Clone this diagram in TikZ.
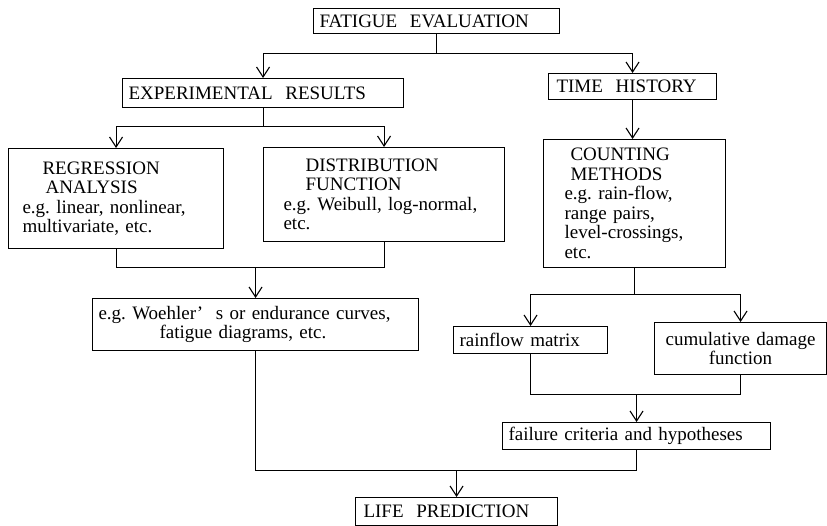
\documentclass[tikz,border=0pt]{standalone}
\usepackage{fontspec}
\setmainfont{Liberation Serif}
\usetikzlibrary{positioning,arrows.meta}
\frenchspacing

\tikzset{
  box/.style={draw,line width=1.1pt,align=left,anchor=north west,
              inner xsep=6pt,inner ysep=2pt,
              font=\fontsize{19}{19.5}\selectfont},
  link/.style={line width=1.1pt},
  arr/.style={link,-{Straight Barb[length=10pt,width=13pt,line width=1.1pt]}},
}

\begin{document}
\begin{tikzpicture}[x=1pt,y=-1pt]
  \useasboundingbox (0,0) rectangle (827,526);

  % boxes
  \node[box,text width=234pt,minimum height=25pt] (fe) at (313,8) {FATIGUE\ \ EVALUATION};
  \node[box,text width=269pt,minimum height=29pt] (exp) at (122,78) {EXPERIMENTAL\ \ RESULTS};
  \node[box,inner xsep=8pt,text width=152pt,minimum height=26pt] (time) at (548,73) {TIME\ \ HISTORY};

  \node[box,inner xsep=14pt,text width=187pt,minimum height=100pt] (reg) at (8,148)
    {\hspace*{20pt}REGRESSION\\\hspace*{23pt}ANALYSIS\\
     e.g. linear, nonlinear,\\ multivariate, etc.};
  \node[box,inner xsep=20pt,text width=201pt,minimum height=94pt] (dist) at (263,147)
    {\hspace*{22pt}DISTRIBUTION\\\hspace*{22pt}FUNCTION\\
     e.g. Weibull, log-normal,\\ etc.};
  \node[box,inner xsep=21pt,text width=140pt,minimum height=128pt] (count) at (543,139)
    {\hspace*{6pt}COUNTING\\\hspace*{6pt}METHODS\\
     e.g. rain-flow,\\ range pairs,\\ level-crossings,\\ etc.};

  \node[box,text width=314pt,minimum height=52pt] (woe) at (92,298)
    {e.g. Woehler'\ \ s or endurance curves,\\ \hspace*{61pt}fatigue diagrams, etc.};
  \node[box,text width=142pt,minimum height=27pt] (rain) at (453,326) {rainflow matrix};
  \node[box,align=center,text width=160pt,minimum height=52pt] (cumul) at (654,322)
    {cumulative damage\\ function};
  \node[box,text width=256pt,minimum height=27pt] (fail) at (502,422) {failure criteria and hypotheses};
  \node[box,inner xsep=8pt,text width=186pt,minimum height=28pt] (life) at (355,497) {LIFE\ \ PREDICTION};

  % connectors
  \draw[link] (fe.south) -- ++(0,19) coordinate (j1);
  \draw[arr] (j1) -| (exp.north);
  \draw[arr] (j1) -| (time.north);

  \draw[link] (exp.south) -- ++(0,18) coordinate (j2);
  \draw[arr] (j2) -| (reg.north);
  \draw[arr] (j2) -| (dist.north);

  \coordinate (m1) at ([yshift=-18pt]reg.south);
  \draw[link] (reg.south) -- (m1) -| (dist.south);
  \draw[arr] (m1 -| woe.north) -- (woe.north);

  \draw[arr] (time.south) -- (time.south |- count.north);

  \draw[link] (count.south) -- ++(0,26) coordinate (j4);
  \draw[arr] (j4) -| (rain.north);
  \draw[arr] (j4) -| (cumul.north);

  \coordinate (m2) at ([yshift=-40pt]rain.south);
  \draw[link] (rain.south) -- (m2) -| (cumul.south);
  \draw[arr] (m2 -| fail.north) -- (fail.north);

  \coordinate (m3) at ([yshift=-20pt]fail.south);
  \draw[link] (woe.south) |- (m3) -- (fail.south);
  \draw[arr] (m3 -| life.north) -- (life.north);
\end{tikzpicture}
\end{document}
